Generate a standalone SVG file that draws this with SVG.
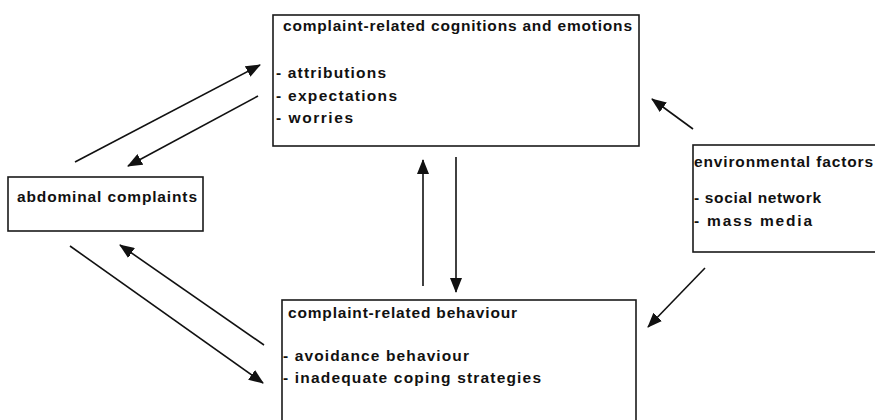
<svg xmlns="http://www.w3.org/2000/svg" width="875" height="420" viewBox="0 0 875 420">
<style>
.box{fill:#fff;stroke:#1a1a1a;stroke-width:1.6}
.t{font-family:"Liberation Sans",Arial,sans-serif;font-size:15.5px;fill:#111;font-weight:bold}
.c{stroke:#111;stroke-width:1.6;fill:none;marker-end:url(#ah)}
</style>
<defs>
<marker id="ah" markerUnits="userSpaceOnUse" markerWidth="15" markerHeight="12" refX="14" refY="6" orient="auto" viewBox="0 0 15 12">
<path d="M0,0 L15,6 L0,12 z" fill="#111"/>
</marker>
</defs>
<rect width="875" height="420" fill="#fff"/>
<g id="cognitions">
<rect class="box" x="273" y="15" width="366" height="131"/>
<text class="t" x="283" y="31" textLength="349" lengthAdjust="spacing">complaint-related cognitions and emotions</text>
<text class="t" x="276" y="78" textLength="110" lengthAdjust="spacing">- attributions</text>
<text class="t" x="276" y="101" textLength="121" lengthAdjust="spacing">- expectations</text>
<text class="t" x="276" y="123" textLength="77" lengthAdjust="spacing">- worries</text>
</g>
<g id="abdominal">
<rect class="box" x="8" y="177" width="195" height="54"/>
<text class="t" x="17" y="202" textLength="180" lengthAdjust="spacing">abdominal complaints</text>
</g>
<g id="environmental">
<rect class="box" x="693" y="145" width="190" height="107"/>
<text class="t" x="694" y="167" textLength="179" lengthAdjust="spacing">environmental factors</text>
<text class="t" x="694" y="203" textLength="127" lengthAdjust="spacing">- social network</text>
<text class="t" x="694" y="226" textLength="118" lengthAdjust="spacing">- mass media</text>
</g>
<g id="behaviour">
<rect class="box" x="282" y="300" width="354" height="125"/>
<text class="t" x="288" y="318" textLength="229" lengthAdjust="spacing">complaint-related behaviour</text>
<text class="t" x="283" y="361" textLength="186" lengthAdjust="spacing">- avoidance behaviour</text>
<text class="t" x="283" y="383" textLength="258" lengthAdjust="spacing">- inadequate coping strategies</text>
</g>
<g id="connectors">
<line class="c" x1="75" y1="162" x2="260" y2="65"/>
<line class="c" x1="258" y1="96" x2="128" y2="166"/>
<line class="c" x1="70" y1="246" x2="263" y2="383"/>
<line class="c" x1="264" y1="345" x2="120" y2="245"/>
<line class="c" x1="423" y1="286" x2="423" y2="160"/>
<line class="c" x1="456" y1="157" x2="456" y2="292"/>
<line class="c" x1="693" y1="129" x2="652" y2="99"/>
<line class="c" x1="705" y1="268" x2="648" y2="327"/>
</g>
</svg>
